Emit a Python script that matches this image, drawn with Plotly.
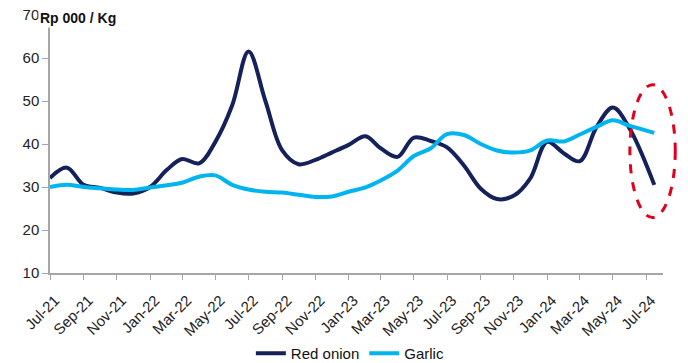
import plotly.graph_objects as go
import pandas as pd

# Monthly price readings, Rp 000 per kg
months = list(pd.date_range("2021-07-01", "2024-06-01", freq="MS").strftime("%Y-%m-%d")) + ["2024-07-16"]

red_onion = [32.1, 34.5, 30.5, 29.8, 28.7, 28.5, 30.0, 34.0, 36.5, 35.5, 40.5, 49.0,
             61.5, 50.0, 38.5, 35.3, 36.3, 38.0, 39.8, 41.8, 39.0, 37.0, 41.5, 40.7,
             39.2, 35.0, 29.6, 27.2, 28.0, 32.0, 40.5, 37.8, 36.0, 44.0, 48.5, 43.5,
             30.5]

garlic = [30.0, 30.5, 30.0, 29.7, 29.4, 29.3, 29.9, 30.4, 31.0, 32.4, 32.7, 30.5,
          29.4, 28.9, 28.7, 28.2, 27.7, 27.8, 28.9, 29.9, 31.5, 33.8, 37.2, 39.0,
          42.3, 42.1, 40.0, 38.5, 38.0, 38.5, 40.8, 40.6, 42.2, 44.0, 45.5, 44.2,
          42.6]

tick_dates = list(pd.date_range("2021-07-01", "2024-07-01", freq="2MS"))
tick_labels = [d.strftime("%b-%y") for d in tick_dates]

y_ticks = [10, 20, 30, 40, 50, 60, 70]

NAVY = "#15215A"
SKY = "#00B4F0"
AXIS = "#A6A6A6"
FONT = "Liberation Sans, Arial, sans-serif"

fig = go.Figure()
fig.add_trace(go.Scatter(
    x=months, y=red_onion, name="Red onion", mode="lines",
    line=dict(color=NAVY, width=4, shape="spline", smoothing=1.0),
))
fig.add_trace(go.Scatter(
    x=months, y=garlic, name="Garlic", mode="lines",
    line=dict(color=SKY, width=4, shape="spline", smoothing=1.0),
))

fig.update_layout(
    width=688, height=363,
    margin=dict(l=50, r=25, t=15, b=90, autoexpand=False),
    paper_bgcolor="white", plot_bgcolor="white",
    font=dict(family=FONT, size=14, color="#222222"),
    showlegend=True,
    legend=dict(orientation="h", x=0.49, xanchor="center",
                yref="container", y=0.026, yanchor="middle",
                font=dict(size=15, color="#111111"),
                tracegroupgap=0, bgcolor="rgba(0,0,0,0)"),
    xaxis=dict(
        type="date", range=["2021-07-01", "2024-08-01"], automargin=False,
        tickmode="array", tickvals=tick_dates, ticktext=tick_labels,
        tickangle=-45, tickfont=dict(size=15, color="#222222"),
        ticklabelstandoff=6, ticklabelshift=5,
        ticks="outside", ticklen=5, tickcolor=AXIS, tickwidth=1,
        showline=True, linecolor=AXIS, linewidth=1.5,
        showgrid=False, zeroline=False,
    ),
    yaxis=dict(
        range=[10, 70], tickvals=y_ticks, automargin=False,
        tickfont=dict(size=15, color="#222222"),
        ticks="outside", ticklen=6, tickcolor=AXIS, tickwidth=1,
        showline=True, linecolor=AXIS, linewidth=1.5,
        showgrid=False, zeroline=False,
    ),
)

# Unit label sitting over the top of the value axis
fig.add_annotation(
    text="<b>Rp 000 / Kg</b>", xref="paper", yref="paper",
    x=-0.02, y=0.99, xanchor="left", yanchor="middle",
    showarrow=False, bgcolor="white", borderpad=1,
    font=dict(family=FONT, size=14, color="#111111"),
)

# Dashed ellipse highlighting the latest readings
fig.add_shape(
    type="circle", xref="paper", yref="paper",
    x0=0.946, x1=1.02, y0=0.215, y1=0.73,
    line=dict(color="#E0001B", width=3, dash="dash"),
    layer="above",
)

fig.write_html("out.html")
